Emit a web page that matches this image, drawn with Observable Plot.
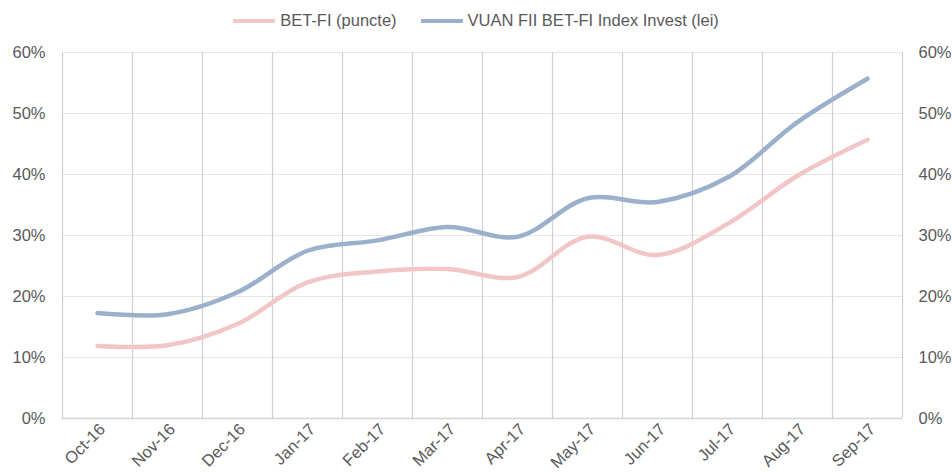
<!DOCTYPE html>
<html>
<head>
<meta charset="utf-8">
<script src="https://cdn.jsdelivr.net/npm/d3@7"></script>
<script src="https://cdn.jsdelivr.net/npm/@observablehq/plot@0.6"></script>
<style>
  html, body { margin: 0; padding: 0; background: #fff; }
  #wrap { position: relative; width: 952px; height: 472px; font-family: "Liberation Sans", sans-serif; color: #595959; }
  #legend { position: absolute; top: 11px; left: 0; width: 952px; display: flex; justify-content: center; align-items: center; font-size: 16.5px; }
  .item { display: flex; align-items: center; margin: 0 12px; }
  .sw { width: 42px; height: 4px; margin-right: 5px; }
</style>
</head>
<body>
<div id="wrap">
  <div id="legend"></div>
  <div id="chart"></div>
</div>
<script>
const months = ["Oct-16","Nov-16","Dec-16","Jan-17","Feb-17","Mar-17","Apr-17","May-17","Jun-17","Jul-17","Aug-17","Sep-17"];
const seriesNames = ["BET-FI (puncte)", "VUAN FII BET-FI Index Invest (lei)"];
const betfi = [0.119, 0.120, 0.155, 0.223, 0.241, 0.245, 0.232, 0.298, 0.268, 0.319, 0.398, 0.457];
const vuan  = [0.173, 0.171, 0.207, 0.275, 0.292, 0.314, 0.298, 0.361, 0.355, 0.395, 0.486, 0.557];
const yTicks = [0, 0.1, 0.2, 0.3, 0.4, 0.5, 0.6];
const colors = ["#f2c6c7", "#9bb0cb"];

const rows = [];
months.forEach((m, i) => {
  rows.push({i, month: m, series: seriesNames[0], v: betfi[i]});
  rows.push({i, month: m, series: seriesNames[1], v: vuan[i]});
});
const n = months.length;
const boundaries = d3.range(n + 1).map(k => k - 0.5);
const pct = d3.format(".0%");

const legend = document.getElementById("legend");
seriesNames.forEach((s, k) => {
  const it = document.createElement("div");
  it.className = "item";
  it.style.margin = k === 0 ? "0 24px 0 0" : "0";
  const sw = document.createElement("div");
  sw.className = "sw";
  sw.style.background = colors[k];
  const t = document.createElement("span");
  t.textContent = s;
  it.appendChild(sw); it.appendChild(t);
  legend.appendChild(it);
});

const chart = Plot.plot({
  width: 952,
  height: 472,
  marginTop: 52,
  marginBottom: 54,
  marginLeft: 62,
  marginRight: 50,
  style: {fontFamily: "'Liberation Sans', sans-serif", fontSize: "16.5px", color: "#595959", background: "transparent"},
  x: {type: "linear", domain: [-0.5, n - 0.5]},
  y: {domain: [0, 0.6]},
  color: {domain: seriesNames, range: colors},
  marks: [
    Plot.ruleY(yTicks, {stroke: "#e6e6e6", strokeWidth: 1.2}),
    Plot.ruleX(boundaries, {stroke: "#cfcfcf", strokeWidth: 1.2}),
    Plot.ruleY([0], {stroke: "#d4d4d4", strokeWidth: 1.5}),
    Plot.axisY(yTicks, {anchor: "left", tickSize: 0, tickPadding: 17, tickFormat: pct, label: null}),
    Plot.axisY(yTicks, {anchor: "right", tickSize: 0, tickPadding: 16, tickFormat: pct, label: null}),
    Plot.axisX(d3.range(n), {tickSize: 0, tickPadding: 8, tickRotate: -45, tickFormat: i => months[i], label: null, dx: 5}),
    Plot.line(rows, {x: "i", y: "v", z: "series", stroke: "series", curve: "catmull-rom", strokeWidth: 4.5, strokeLinecap: "round"})
  ]
});
document.getElementById("chart").appendChild(chart);
</script>
</body>
</html>
